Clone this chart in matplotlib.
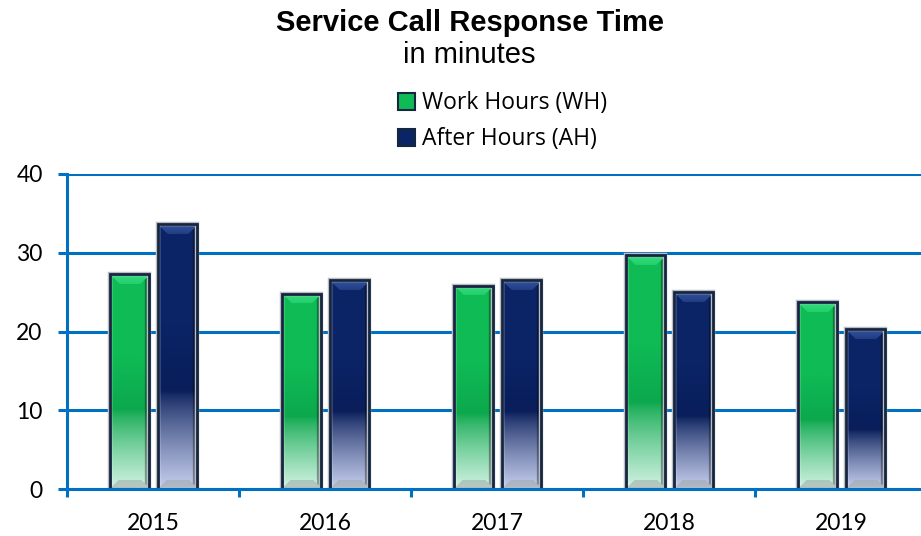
import numpy as np
import matplotlib.pyplot as plt
from matplotlib.patches import Patch, Rectangle

# chart data
years = ["2015", "2016", "2017", "2018", "2019"]
work_hours = [27.3, 24.8, 25.8, 29.7, 23.7]
after_hours = [33.6, 26.5, 26.5, 25.0, 20.3]

blue = "#0070c0"
edge = "#17263f"

# colours: (top face, main, dark, light bottom)
green_cols = ("#34e07e", "#0fbb55", "#0ca84d", "#d2f3e3")
navy_cols = ("#34539e", "#0b2466", "#091e5a", "#c6cfee")


def hexrgb(h):
    h = h.lstrip("#")
    return np.array([int(h[i:i + 2], 16) / 255 for i in (0, 2, 4)])


def bar_image(cols, wpx, hpx):
    top, main, dark, light = [hexrgb(c) for c in cols]
    nx, ny = max(int(wpx), 4), max(int(hpx), 4)
    r = np.arange(ny)[:, None]
    c = np.arange(nx)[None, :]
    f = 1 - (r + 0.5) / ny  # fraction from bottom
    # vertical gradient: base colour above 37 %, fading to light at the bottom
    t = np.clip((0.37 - f) / 0.37, 0, 1) ** 0.8
    s = np.clip((f - 0.37) / 0.25, 0, 1)
    body = main * s[..., None] + dark * (1 - s[..., None])
    img = body * (1 - t[..., None]) + light * t[..., None]
    img = np.broadcast_to(img, (ny, nx, 3)).copy()
    # bevel faces
    d = 10
    dl = c + 0 * r
    dr = nx - 1 - c + 0 * r
    dt = r + 0 * c
    db = ny - 1 - r + 0 * c
    m = np.minimum(np.minimum(dl, dr), np.minimum(dt, db))
    topf = (dt == m) & (dt < d)
    botf = (db == m) & (db < 9) & ~topf
    rightf = (dr == m) & (dr < 5) & ~topf & ~botf
    leftf = (dl == m) & (dl < 3) & ~topf & ~botf
    k = (dt / d)[..., None] * np.ones((1, 1, 3))
    grad_top = top * (1 - k * 0.5) + main * (k * 0.5)
    img[topf] = grad_top[topf]
    gray = np.array([0.62, 0.66, 0.66])
    img[botf] = img[botf] * 0.45 + gray * 0.55
    img[rightf] = img[rightf] * 0.65
    img[leftf] = np.clip(img[leftf] * 1.08, 0, 1)
    return img


fig = plt.figure(figsize=(9.21, 5.36), dpi=100)
ax = fig.add_axes([67 / 921, 1 - 489 / 536, 860 / 921, 315 / 536])

x = np.arange(len(years))
bw = 0.227
ax.set_xlim(-0.5, 4.5)
ax.set_ylim(0, 40)

px_x = 860 / 5
px_y = 315 / 40

for vals, off, cols in [(work_hours, -0.134, green_cols), (after_hours, 0.14, navy_cols)]:
    bars = ax.bar(x + off, vals, bw, color="none", edgecolor="none", zorder=2)
    for b in bars:
        x0, w, h = b.get_x(), b.get_width(), b.get_height()
        img = bar_image(cols, w * px_x, h * px_y)
        ax.imshow(img, extent=(x0, x0 + w, 0, h), aspect="auto",
                  interpolation="bilinear", zorder=2)
        ax.add_patch(Rectangle((x0, 0), w, h, facecolor="none",
                               edgecolor="#b8bcc4", linewidth=3.2, zorder=2.5))
        ax.add_patch(Rectangle((x0, 0), w, h, facecolor="none",
                               edgecolor=edge, linewidth=2.0, zorder=3))

ax.set_xlim(-0.5, 4.5)
ax.set_ylim(0, 40)

# grid and axes
ax.set_axisbelow(True)
ax.yaxis.grid(True, color=blue, linewidth=2.2)
for side in ["top", "right"]:
    ax.spines[side].set_visible(False)
for side in ["left", "bottom"]:
    ax.spines[side].set_color(blue)
    ax.spines[side].set_linewidth(2.2)
    ax.spines[side].set_zorder(4)

ax.set_yticks([0, 10, 20, 30, 40])
ax.tick_params(axis="y", colors=blue, length=6.5, width=2.2, pad=11,
               labelcolor="black", labelsize=16.5)
ax.set_xticks(np.arange(-0.5, 5, 1))
ax.set_xticklabels([])
ax.set_xticks(x, minor=True)
ax.set_xticklabels(years, minor=True)
ax.tick_params(axis="x", which="major", colors=blue, length=6, width=2.2)
ax.tick_params(axis="x", which="minor", length=0, pad=17, labelsize=16.5)
for lab in ax.get_xticklabels(minor=True) + ax.get_yticklabels():
    lab.set_family("Lato")

# titles
fig.text(0.51, 1 - 23 / 536, "Service Call Response Time", ha="center", va="center",
         fontsize=21, fontweight="bold", family="Liberation Sans")
fig.text(0.51, 1 - 55 / 536, "in minutes", ha="center", va="center",
         fontsize=21, family="Liberation Sans")

handles = [Patch(facecolor=green_cols[1], edgecolor=edge, linewidth=1.5),
           Patch(facecolor=navy_cols[1], edgecolor=edge, linewidth=1.5)]
fig.legend(handles, ["Work Hours (WH)", "After Hours (AH)"], loc="upper left",
           bbox_to_anchor=(387 / 921, 1 - 80 / 536), frameon=False, borderpad=0,
           handlelength=0.72, handleheight=0.72, handletextpad=0.3,
           labelspacing=0.52, prop={"family": "Open Sans", "size": 16.5})

fig.savefig("out.png", dpi=100)
